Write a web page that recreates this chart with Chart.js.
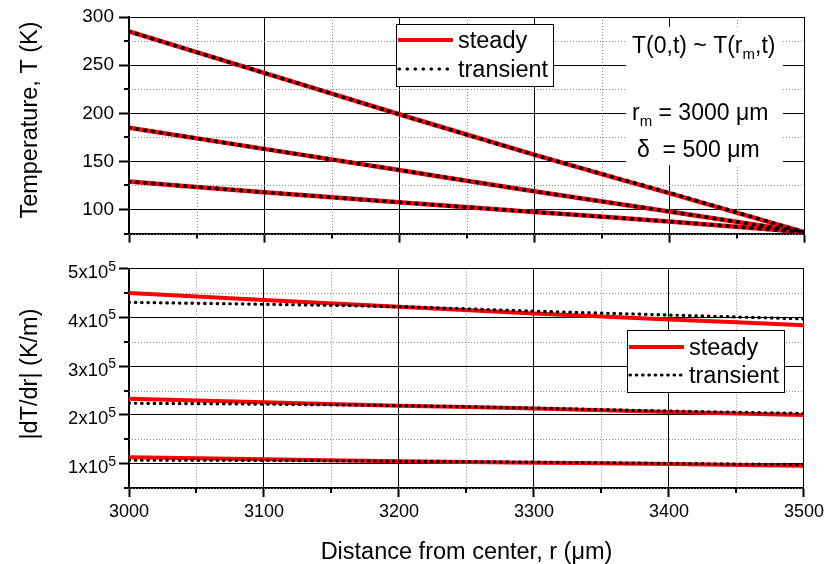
<!DOCTYPE html>
<html>
<head>
<meta charset="utf-8">
<script src="https://cdn.jsdelivr.net/npm/chart.js@4.4.1/dist/chart.umd.min.js"></script>
<style>
  html, body { margin: 0; padding: 0; background: #fff; }
  #wrap { position: relative; width: 828px; height: 564px; }
  #tempChart { position: absolute; left: 0; top: 0; }
  #gradChart { position: absolute; left: 0; top: 250px; }
</style>
</head>
<body>
<div id="wrap">
  <canvas id="tempChart" width="828" height="250"></canvas>
  <canvas id="gradChart" width="828" height="314"></canvas>
</div>
<script>
/* Radial positions (µm) and axis ticks */

const radius = [3000, 3100, 3200, 3300, 3400, 3500];

const radiusTicks = [3000, 3100, 3200, 3300, 3400, 3500];
const radiusMinor = [3050, 3150, 3250, 3350, 3450];

const tempTicks = [100, 150, 200, 250, 300];
const tempMinor = [75, 125, 175, 225, 275];

const gradTicks = [1e5, 2e5, 3e5, 4e5, 5e5];
const gradMinor = [0.5e5, 1.5e5, 2.5e5, 3.5e5, 4.5e5];

/* Temperature profiles T(r), K */

const tempSteadyHigh = [285, 242, 199, 157, 117, 76.5];
const tempSteadyMid  = [185, 163, 141, 119, 98, 76.5];
const tempSteadyLow  = [129, 118, 107.5, 97.5, 87.5, 76.5];

const tempTransHigh = [285, 242, 199, 157, 117.5, 76.5];
const tempTransMid  = [185, 163, 141, 119, 98, 76.5];
const tempTransLow  = [129, 118, 107.5, 97.5, 87.5, 76.5];

/* Gradient magnitude |dT/dr|, K/m */

const gradSteadyHigh = [4.50e5, 4.36e5, 4.22e5, 4.08e5, 3.96e5, 3.84e5];
const gradSteadyMid  = [2.33e5, 2.26e5, 2.19e5, 2.13e5, 2.06e5, 2.00e5];
const gradSteadyLow  = [1.13e5, 1.09e5, 1.05e5, 1.02e5, 0.99e5, 0.955e5];

const gradTransHigh = [4.31e5, 4.27e5, 4.22e5, 4.13e5, 4.05e5, 3.97e5];
const gradTransMid  = [2.24e5, 2.22e5, 2.19e5, 2.14e5, 2.08e5, 2.03e5];
const gradTransLow  = [1.07e5, 1.065e5, 1.05e5, 1.03e5, 1.005e5, 0.98e5];


const FONT = '"Liberation Sans", Arial, sans-serif';
Chart.defaults.font.family = FONT;
Chart.defaults.color = "#000";

const toPoints = values => values.map((v, i) => ({ x: radius[i], y: v }));

function steady(values, width) {
    return {
        data: toPoints(values),
        borderColor: "#ff0000",
        borderWidth: width,
        pointRadius: 0,
        cubicInterpolationMode: "monotone",
        order: 2
    };
}

function transient(values, width, gap) {
    return {
        data: toPoints(values),
        borderColor: "#000",
        borderWidth: width,
        borderDash: [0.5, gap],
        borderCapStyle: "round",
        pointRadius: 0,
        cubicInterpolationMode: "monotone",
        order: 1
    };
}

function setTicks(values) {
    return scale => { scale.ticks = values.map(v => ({ value: v })); };
}

const gridStyle = {
    color: "#000",
    lineWidth: 1,
    drawTicks: true,
    tickColor: "#000",
    tickWidth: 2
};


/* Helpers for the decorations */

function line(ctx, x1, y1, x2, y2) {
    ctx.beginPath();
    ctx.moveTo(x1, y1);
    ctx.lineTo(x2, y2);
    ctx.stroke();
}

// text with sub/superscript pieces: [{text, size, dy}]
function drawRuns(ctx, x, y, runs) {
    runs.forEach(r => {
        ctx.font = r.size + "px " + FONT;
        ctx.fillText(r.text, x, y + (r.dy || 0));
        x += ctx.measureText(r.text).width;
    });
}

function runsWidth(ctx, runs) {
    return runs.reduce((w, r) => {
        ctx.font = r.size + "px " + FONT;
        return w + ctx.measureText(r.text).width;
    }, 0);
}

function minorGrid(chart, yMinor) {
    const { ctx, chartArea: a, scales: { x, y } } = chart;
    ctx.save();
    ctx.strokeStyle = "#8c8c8c";
    ctx.lineWidth = 1;
    ctx.setLineDash([1, 2]);
    radiusMinor.forEach(v => {
        const px = Math.round(x.getPixelForValue(v)) + 0.5;
        line(ctx, px, a.top, px, a.bottom);
    });
    yMinor.forEach(v => {
        const py = Math.round(y.getPixelForValue(v)) + 0.5;
        line(ctx, a.left, py, a.right, py);
    });
    ctx.setLineDash([]);
    ctx.strokeStyle = "#000";
    ctx.lineWidth = 2;
    radiusMinor.forEach(v => {
        const px = Math.round(x.getPixelForValue(v));
        line(ctx, px, a.bottom, px, a.bottom + 5);
    });
    yMinor.forEach(v => {
        const py = Math.round(y.getPixelForValue(v));
        line(ctx, a.left - 5, py, a.left, py);
    });
    ctx.restore();
}

function legendBox(ctx, x, y, w, h, rows) {
    ctx.save();
    ctx.fillStyle = "#fff";
    ctx.fillRect(x, y, w, h);
    ctx.strokeStyle = "#000";
    ctx.lineWidth = 1;
    ctx.strokeRect(x + 0.5, y + 0.5, w, h);

    // steady sample
    ctx.strokeStyle = "#ff0000";
    ctx.lineWidth = 4;
    line(ctx, x + 2, rows[0], x + 57, rows[0]);

    // transient sample
    ctx.strokeStyle = "#000";
    ctx.lineWidth = 3.2;
    ctx.lineCap = "round";
    ctx.setLineDash([0.5, rows[2]]);
    line(ctx, x + 3, rows[1], x + 57, rows[1]);
    ctx.setLineDash([]);

    ctx.fillStyle = "#000";
    ctx.font = "23.5px " + FONT;
    ctx.textBaseline = "alphabetic";
    ctx.fillText("steady", x + 62, rows[0] + 8);
    ctx.fillText("transient", x + 62, rows[1] + 8);
    ctx.restore();
}

function verticalTitle(ctx, text, x, y) {
    ctx.save();
    ctx.translate(x, y);
    ctx.rotate(-Math.PI / 2);
    ctx.font = "23.5px " + FONT;
    ctx.fillStyle = "#000";
    ctx.textAlign = "center";
    ctx.textBaseline = "alphabetic";
    ctx.fillText(text, 0, 0);
    ctx.restore();
}


/* Temperature panel */

const tempDecor = {
    id: "tempDecor",
    beforeDatasetsDraw(chart) {
        minorGrid(chart, tempMinor);
    },
    afterDatasetsDraw(chart) {
        const ctx = chart.ctx;
        legendBox(ctx, 396, 24, 157, 62, [40, 69, 7.5]);

        // parameter notes
        ctx.save();
        ctx.fillStyle = "#fff";
        ctx.fillRect(626, 27, 157, 138);
        ctx.fillStyle = "#000";
        ctx.textBaseline = "alphabetic";
        drawRuns(ctx, 632, 53, [
            { text: "T(0,t) ~ T(r", size: 23 },
            { text: "m", size: 15, dy: 6 },
            { text: ",t)", size: 23 }
        ]);
        drawRuns(ctx, 632, 120, [
            { text: "r", size: 23 },
            { text: "m", size: 15, dy: 6 },
            { text: " = 3000 μm", size: 23 }
        ]);
        drawRuns(ctx, 637, 157, [
            { text: "δ  = 500 μm", size: 23 }
        ]);
        ctx.restore();

        verticalTitle(ctx, "Temperature, T (K)", 37, 120);
    }
};

new Chart(document.getElementById("tempChart"), {
    type: "line",
    data: {
        datasets: [
            steady(tempSteadyHigh, 4.5),
            steady(tempSteadyMid, 4.5),
            steady(tempSteadyLow, 4.5),
            transient(tempTransHigh, 4, 7.5),
            transient(tempTransMid, 4, 7.5),
            transient(tempTransLow, 4, 7.5)
        ]
    },
    options: {
        responsive: false,
        animation: false,
        events: [],
        layout: { padding: { top: 17, right: 24, bottom: 0, left: 0 } },
        plugins: { legend: { display: false }, tooltip: { enabled: false } },
        scales: {
            x: {
                type: "linear",
                min: 3000,
                max: 3500,
                afterBuildTicks: setTicks(radiusTicks),
                afterFit: s => { s.height = 13; },
                ticks: { display: false },
                grid: { ...gridStyle, tickLength: 9 },
                border: { color: "#000", width: 2 }
            },
            y: {
                min: 75,
                max: 300,
                afterBuildTicks: setTicks(tempTicks),
                afterFit: s => { s.width = 129; },
                ticks: { font: { size: 19 }, padding: 5, color: "#000" },
                grid: { ...gridStyle, tickLength: 10 },
                border: { color: "#000", width: 2 }
            }
        }
    },
    plugins: [tempDecor]
});


/* Gradient panel */

const gradDecor = {
    id: "gradDecor",
    beforeDatasetsDraw(chart) {
        minorGrid(chart, gradMinor);
    },
    afterDatasetsDraw(chart) {
        const { ctx, chartArea: a, scales: { y } } = chart;
        legendBox(ctx, 627, 80, 157, 62, [97, 125, 5.8]);

        // y tick labels as mantissa x 10^5
        ctx.save();
        ctx.fillStyle = "#000";
        ctx.textBaseline = "alphabetic";
        gradTicks.forEach(v => {
            const py = y.getPixelForValue(v);
            const runs = [
                { text: (v / 1e5) + "x10", size: 18.5 },
                { text: "5", size: 14, dy: -7.5 }
            ];
            const w = runsWidth(ctx, runs);
            drawRuns(ctx, 116 - w, py + 9.5, runs);
        });
        ctx.restore();

        verticalTitle(ctx, "|dT/dr| (K/m)", 37, 124);

        ctx.save();
        ctx.font = "23.5px " + FONT;
        ctx.fillStyle = "#000";
        ctx.textAlign = "center";
        ctx.textBaseline = "alphabetic";
        ctx.fillText("Distance from center, r (μm)", (a.left + a.right) / 2, 309);
        ctx.restore();
    }
};

new Chart(document.getElementById("gradChart"), {
    type: "line",
    data: {
        datasets: [
            steady(gradSteadyHigh, 4),
            steady(gradSteadyMid, 4),
            steady(gradSteadyLow, 4),
            transient(gradTransHigh, 3.2, 5.8),
            transient(gradTransMid, 3.2, 5.8),
            transient(gradTransLow, 3.2, 5.8)
        ]
    },
    options: {
        responsive: false,
        animation: false,
        events: [],
        layout: { padding: { top: 18.7, right: 24, bottom: 0, left: 0 } },
        plugins: { legend: { display: false }, tooltip: { enabled: false } },
        scales: {
            x: {
                type: "linear",
                min: 3000,
                max: 3500,
                afterBuildTicks: setTicks(radiusTicks),
                afterFit: s => { s.height = 76; },
                ticks: { font: { size: 18 }, padding: 4, color: "#000", callback: v => String(v) },
                grid: { ...gridStyle, tickLength: 9 },
                border: { color: "#000", width: 2 }
            },
            y: {
                min: 0.5e5,
                max: 5e5,
                afterBuildTicks: setTicks(gradTicks),
                afterFit: s => { s.width = 129; },
                ticks: { display: false },
                grid: { ...gridStyle, tickLength: 10 },
                border: { color: "#000", width: 2 }
            }
        }
    },
    plugins: [gradDecor]
});
</script>
</body>
</html>
